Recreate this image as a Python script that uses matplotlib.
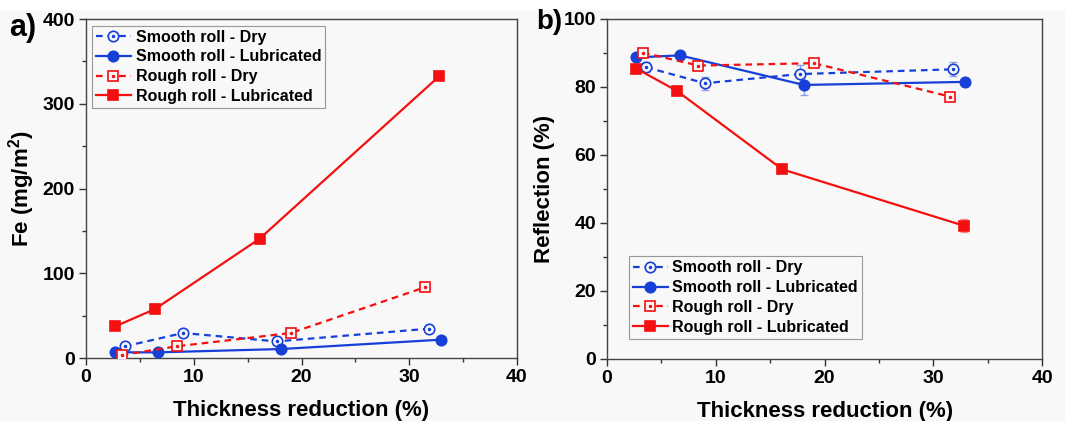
import matplotlib
matplotlib.use('Agg')
import matplotlib.pyplot as plt
from matplotlib.ticker import MultipleLocator
from matplotlib.patches import Rectangle

plt.rcParams['font.family'] = ['Liberation Sans', 'DejaVu Sans']
plt.rcParams['font.weight'] = 'bold'
plt.rcParams['axes.labelweight'] = 'bold'
plt.rcParams['mathtext.fontset'] = 'custom'
plt.rcParams['mathtext.bf'] = 'Liberation Sans:bold'
plt.rcParams['mathtext.rm'] = 'Liberation Sans:bold'
plt.rcParams['mathtext.default'] = 'bf'

# thickness reduction (%) for each series
x_smooth_dry = [3.6, 9.0, 17.7, 31.8]
x_smooth_lub = [2.7, 6.7, 18.1, 32.9]
x_rough_dry = [3.3, 8.4, 19.0, 31.5]
x_rough_lub = [2.7, 6.4, 16.1, 32.8]

# Fe (mg/m2)
fe_smooth_dry = [13.8, 29.5, 19.6, 34.6]
fe_smooth_lub = [6.7, 6.7, 10.6, 21.6]
fe_rough_dry = [3.5, 13.8, 29.5, 83.7]
fe_rough_lub = [37.3, 57.8, 140.7, 332.8]

# Reflection (%) and its error
refl_smooth_dry = [85.8, 81.1, 83.8, 85.2]
refl_smooth_lub = [88.7, 89.3, 80.6, 81.5]
refl_rough_dry = [90.1, 86.3, 87.0, 77.2]
refl_rough_lub = [85.4, 78.9, 55.8, 39.2]
err_smooth_dry = [1.5, 1.9, 2.7, 2.1]
err_smooth_lub = [0.5, 0.5, 3.1, 0.5]
err_rough_dry = [0.6, 0.5, 1.0, 0.5]
err_rough_lub = [0.5, 0.5, 0.5, 1.9]

labels = ['Smooth roll - Dry', 'Smooth roll - Lubricated',
          'Rough roll - Dry', 'Rough roll - Lubricated']

BLUE = '#1640d8'
RED = '#f41010'
BG = '#f8f8f8'

fig = plt.figure(figsize=(10.65, 4.21), dpi=100, facecolor=BG)
fig.add_artist(Rectangle((0, 1 - 10 / 421), 1, 10 / 421, transform=fig.transFigure,
                         facecolor='white', edgecolor='none'))
ax1 = fig.add_axes([0.0808, 0.1496, 0.4047, 0.8052])
ax2 = fig.add_axes([0.570, 0.1473, 0.4085, 0.8076])


def series(ax, xs, ys, errs=None):
    # open circle with centre dot, filled circle, open square with centre dot, filled square
    specs = [
        (xs[0], ys[0], BLUE, '--', 'o', 'none'),
        (xs[1], ys[1], BLUE, '-', 'o', BLUE),
        (xs[2], ys[2], RED, '--', 's', 'none'),
        (xs[3], ys[3], RED, '-', 's', RED),
    ]
    handles = []
    for i, (x, y, c, ls, m, fc) in enumerate(specs):
        if errs is not None:
            ax.errorbar(x, y, yerr=errs[i], fmt='none', ecolor=c, alpha=0.45,
                        elinewidth=1.0, capsize=3, capthick=1.0, zorder=2)
        ms = 7.5 if m == 'o' else 6.5
        hollow = fc == 'none'
        line, = ax.plot(x, y, ls=ls, color=c, lw=1.6, marker=m, ms=ms,
                        mfc=BG if hollow else fc, mec=c, mew=1.2, zorder=3,
                        dashes=(3, 2.2) if ls == '--' else (None, None))
        if hollow:
            dot, = ax.plot(x, y, ls='none', marker='.', ms=3, color=c, zorder=4)
            handles.append((line, dot))
        else:
            handles.append(line)
    return handles


h1 = series(ax1, [x_smooth_dry, x_smooth_lub, x_rough_dry, x_rough_lub],
            [fe_smooth_dry, fe_smooth_lub, fe_rough_dry, fe_rough_lub])
h2 = series(ax2, [x_smooth_dry, x_smooth_lub, x_rough_dry, x_rough_lub],
            [refl_smooth_dry, refl_smooth_lub, refl_rough_dry, refl_rough_lub],
            [err_smooth_dry, err_smooth_lub, err_rough_dry, err_rough_lub])

for ax in (ax1, ax2):
    ax.set_facecolor(BG)
    ax.set_xlim(0, 40)
    ax.xaxis.set_major_locator(MultipleLocator(10))
    ax.xaxis.set_minor_locator(MultipleLocator(5))
    ax.tick_params(which='both', direction='out', top=False, right=False,
                   labelsize=14, color='#333333', width=1.0, pad=3)
    ax.tick_params(which='major', length=5)
    ax.tick_params(which='minor', length=3)
    for s in ax.spines.values():
        s.set_color('#444444')
        s.set_linewidth(1.0)
    ax.set_xlabel('Thickness reduction (%)', fontsize=16, labelpad=10)

ax1.set_ylim(0, 400)
ax1.yaxis.set_major_locator(MultipleLocator(100))
ax1.yaxis.set_minor_locator(MultipleLocator(50))
ax1.set_ylabel('Fe (mg/m$^2$)', fontsize=16, labelpad=4)

ax2.set_ylim(0, 100)
ax2.yaxis.set_major_locator(MultipleLocator(20))
ax2.yaxis.set_minor_locator(MultipleLocator(10))
ax2.set_ylabel('Reflection (%)', fontsize=16, labelpad=6)

leg_kw = dict(fontsize=11.5, handlelength=2.2, handletextpad=0.3,
              labelspacing=0.3, borderpad=0.25, borderaxespad=0.2, fancybox=False,
              framealpha=1, facecolor=BG, edgecolor='#999999')
l1 = ax1.legend(h1, labels, loc='upper left', bbox_to_anchor=(0.006, 0.99), **leg_kw)
l2 = ax2.legend(h2, labels, loc='lower left', bbox_to_anchor=(0.042, 0.05), **leg_kw)
for l in (l1, l2):
    l.get_frame().set_linewidth(0.8)

fig.text(9 / 1065, 1 - 13 / 421, 'a)', fontsize=22, va='top', ha='left')
fig.text(536 / 1065, 1 - 9 / 421, 'b)', fontsize=20, va='top', ha='left')

fig.savefig('out.png', dpi=100, facecolor=BG)
